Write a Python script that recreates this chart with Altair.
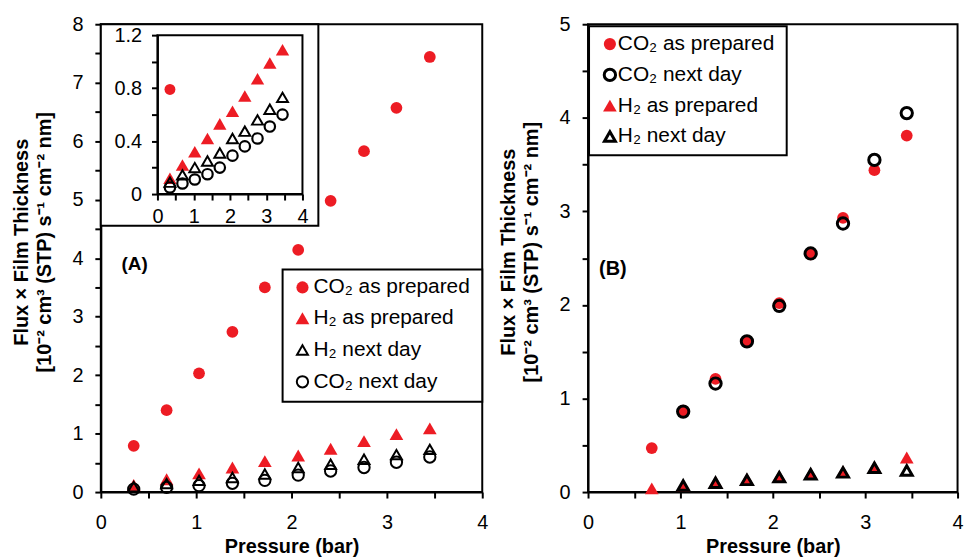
import altair as alt
import pandas as pd

FONT = "Liberation Sans"
RED = "#ED1C24"

# ---------------- data ----------------
pressure_a = [0.345, 0.69, 1.03, 1.38, 1.72, 2.07, 2.41, 2.76, 3.10, 3.45]
a_co2_prepared = [0.79, 1.40, 2.03, 2.74, 3.50, 4.14, 4.98, 5.83, 6.57, 7.44]
a_h2_prepared = [0.12, 0.22, 0.32, 0.42, 0.53, 0.625, 0.74, 0.87, 0.99, 1.09]
a_h2_next = [0.09, 0.145, 0.20, 0.25, 0.31, 0.42, 0.475, 0.56, 0.64, 0.73]
a_co2_next = [0.05, 0.08, 0.11, 0.15, 0.20, 0.29, 0.36, 0.42, 0.51, 0.60]

pressure_b = [0.69, 1.03, 1.38, 1.72, 2.07, 2.41, 2.76, 3.10, 3.45]
b_co2_prepared = [0.47, 0.87, 1.21, 1.61, 2.02, 2.54, 2.93, 3.44, 3.81]
b_co2_next = [None, 0.86, 1.16, 1.61, 1.99, 2.55, 2.87, 3.55, 4.05]
b_h2_prepared = [0.04, 0.07, 0.11, 0.14, 0.17, 0.20, 0.22, 0.27, 0.37]
b_h2_next = [None, 0.07, 0.10, 0.13, 0.16, 0.19, 0.21, 0.26, 0.23]

legend_a = ["CO₂ as prepared", "H₂ as prepared", "H₂ next day", "CO₂ next day"]
legend_b = ["CO₂  as prepared", "CO₂  next day", "H₂  as prepared", "H₂  next day"]

y_title = ["Flux × Film Thickness", "[10⁻² cm³ (STP) s⁻¹ cm⁻² nm]"]
x_title = "Pressure (bar)"
x_ticks = [0, 0.5, 1, 1.5, 2, 2.5, 3, 3.5, 4]
ya_ticks = [0, 0.5, 1, 1.5, 2, 2.5, 3, 3.5, 4, 4.5, 5, 5.5, 6, 6.5, 7, 7.5, 8]
yb_ticks = [0, 0.5, 1, 1.5, 2, 2.5, 3, 3.5, 4, 4.5, 5]
yi_ticks = [0, 0.2, 0.4, 0.6, 0.8, 1.0, 1.2]

# marker styles: (shape, filled, color)
CO2_PREP = ("circle", True, RED)
H2_PREP = ("triangle-up", True, RED)
H2_NEXT = ("triangle-up", False, "black")
CO2_NEXT = ("circle", False, "black")

W_A, H = 384, 471
W_B = 372

INT_LABEL = "datum.value % 1 == 0 ? datum.label : ''"


def points(xs, ys, style, size, sw, x_enc, y_enc, ymax=None):
    df = pd.DataFrame({"p": xs, "v": ys}).dropna()
    if ymax is not None:
        df = df[df["v"] <= ymax]
    shape, filled, color = style
    return alt.Chart(df).mark_point(
        shape=shape, filled=filled, color=color, size=size,
        strokeWidth=sw, opacity=1
    ).encode(x=x_enc, y=y_enc)


def legend_layers(labels, styles, mx, tx, ys, box, sizes, sw):
    x0, x1, y0, y1 = box
    layers = [
        alt.Chart(pd.DataFrame({"a": [0]})).mark_rect(
            fill="white", stroke="black", strokeWidth=2
        ).encode(x=alt.value(x0), x2=alt.value(x1), y=alt.value(y0), y2=alt.value(y1))
    ]
    for lab, st, yy, sz in zip(labels, styles, ys, sizes):
        shape, filled, color = st
        layers.append(
            alt.Chart(pd.DataFrame({"a": [0]})).mark_point(
                shape=shape, filled=filled, color=color, size=sz,
                strokeWidth=sw, opacity=1
            ).encode(x=alt.value(mx), y=alt.value(yy))
        )
        layers.append(
            alt.Chart(pd.DataFrame({"a": [0]})).mark_text(
                align="left", baseline="middle", font=FONT, fontSize=21, color="black"
            ).encode(x=alt.value(tx), y=alt.value(yy), text=alt.value(lab))
        )
    return layers


def panel_label(txt, x, y, size):
    return alt.Chart(pd.DataFrame({"a": [0]})).mark_text(
        align="center", baseline="middle", font=FONT, fontSize=size,
        fontWeight="bold", color="black"
    ).encode(x=alt.value(x), y=alt.value(y), text=alt.value(txt))


# ---------------- panel A ----------------
xa = alt.X("p:Q", scale=alt.Scale(domain=[0, 4], nice=False, zero=False),
           axis=alt.Axis(values=x_ticks, labelExpr=INT_LABEL, format="~g",
                         title=x_title))
ya = alt.Y("v:Q", scale=alt.Scale(domain=[0, 8], nice=False),
           axis=alt.Axis(values=ya_ticks, labelExpr=INT_LABEL, format="~g",
                         title=y_title, titleY=219))

main_a = alt.layer(
    points(pressure_a, a_co2_prepared, CO2_PREP, 140, 2, xa, ya),
    points(pressure_a, a_h2_prepared, H2_PREP, 190, 2, xa, ya),
    points(pressure_a, a_h2_next, H2_NEXT, 120, 2, xa, ya),
    points(pressure_a, a_co2_next, CO2_NEXT, 130, 2, xa, ya),
    *legend_layers(legend_a, [CO2_PREP, H2_PREP, H2_NEXT, CO2_NEXT],
                   203, 214, [265, 296, 328, 360], (183, 384, 247, 380),
                   [150, 190, 120, 130], 2),
    panel_label("(A)", 34, 241, 19),
    # inset background box
    alt.Chart(pd.DataFrame({"a": [0]})).mark_rect(
        fill="white", stroke="black", strokeWidth=2
    ).encode(x=alt.value(0), x2=alt.value(219), y=alt.value(0), y2=alt.value(203)),
    # inset plot frame
    alt.Chart(pd.DataFrame({"a": [0]})).mark_rect(
        fill="white", stroke="black", strokeWidth=2
    ).encode(x=alt.value(57), x2=alt.value(203), y=alt.value(11), y2=alt.value(171)),
)

xi = alt.X("p:Q", scale=alt.Scale(domain=[0, 4], nice=False, zero=False, range=[57, 203]),
           axis=alt.Axis(values=x_ticks, labelExpr=INT_LABEL, format="~g",
                         title=None, orient="bottom", offset=-300, labelPadding=7,
                         zindex=2))
yi = alt.Y("v:Q", scale=alt.Scale(domain=[0, 1.2], nice=False, range=[171, 11]),
           axis=alt.Axis(values=yi_ticks, format="~g",
                         labelExpr="round(datum.value * 10) % 4 == 0 ? datum.label : ''",
                         title=None, orient="left", offset=-57, labelPadding=10,
                         zindex=2))

inset_a = alt.layer(
    points(pressure_a, a_co2_prepared, CO2_PREP, 120, 2, xi, yi, ymax=1.2),
    points(pressure_a, a_h2_prepared, H2_PREP, 180, 2, xi, yi),
    points(pressure_a, a_h2_next, H2_NEXT, 120, 2, xi, yi),
    points(pressure_a, a_co2_next, CO2_NEXT, 110, 2.2, xi, yi),
)

panel_a = alt.layer(main_a, inset_a).resolve_scale(
    x="independent", y="independent"
).properties(width=W_A, height=H)

# ---------------- panel B ----------------
xb = alt.X("p:Q", scale=alt.Scale(domain=[0, 4], nice=False, zero=False),
           axis=alt.Axis(values=x_ticks, labelExpr=INT_LABEL, format="~g",
                         title=x_title))
yb = alt.Y("v:Q", scale=alt.Scale(domain=[0, 5], nice=False),
           axis=alt.Axis(values=yb_ticks, labelExpr=INT_LABEL, format="~g",
                         title=y_title, titleY=229))

panel_b = alt.layer(
    points(pressure_b, b_co2_prepared, CO2_PREP, 140, 2, xb, yb),
    points(pressure_b, b_h2_prepared, H2_PREP, 190, 2, xb, yb),
    points(pressure_b, b_co2_next, CO2_NEXT, 130, 3, xb, yb),
    points(pressure_b, b_h2_next, H2_NEXT, 120, 3, xb, yb),
    *legend_layers(legend_b, [CO2_PREP, CO2_NEXT, H2_PREP, H2_NEXT],
                   22, 30, [20, 51, 82, 113], (1, 200, 2, 132),
                   [150, 130, 190, 120], 3),
    panel_label("(B)", 25, 246, 20),
).properties(width=W_B, height=H)

chart = alt.hconcat(panel_a, panel_b, spacing=7.5).properties(
    padding={"left": 9.5, "top": 11.5, "right": 0, "bottom": 0}
).configure_view(
    stroke="black", strokeWidth=2
).configure_axis(
    labelFont=FONT, labelFontSize=20, labelColor="black", labelPadding=12,
    labelFlush=False, labelOverlap=False,
    titleFont=FONT, titleFontSize=20, titleFontWeight="bold", titleColor="black",
    titleLineHeight=23,
    domainColor="black", domainWidth=2, tickColor="black", tickWidth=2, tickSize=6,
    grid=False,
).configure_axisX(labelPadding=15, titlePadding=4).configure_axisY(titlePadding=18)

chart.save("out.html", embed_options={"renderer": "svg", "actions": False})
